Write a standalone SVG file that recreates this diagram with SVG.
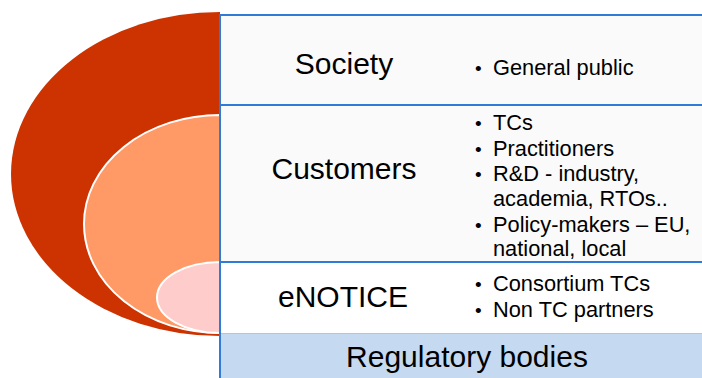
<svg xmlns="http://www.w3.org/2000/svg" width="702" height="378" viewBox="0 0 702 378">
<style>
.h{font-family:"Liberation Sans",Arial,sans-serif;font-size:30px;fill:#000;text-anchor:middle}
.b{font-family:"Liberation Sans",Arial,sans-serif;font-size:21.8px;fill:#000}
.d{font-family:"Liberation Sans",Arial,sans-serif;font-size:19px;fill:#000}
.ln{stroke:#2F7BD5;stroke-width:2;fill:none}
</style>
<rect width="702" height="378" fill="#fff"/>
<g id="rings">
<path d="M220,12 A209,162 0 0 0 220,336 Z" fill="#CC3300"/>
<path d="M220,115 A136,109 0 0 0 220,333 Z" fill="#FF9966" stroke="#fff" stroke-width="2"/>
<path d="M220,262 A63,35.5 0 0 0 220,333 Z" fill="#FFCCCC" stroke="#fff" stroke-width="2"/>
</g>
<g id="society">
<rect x="220" y="15" width="482" height="90" fill="#FAFAFA"/>
<text class="h" x="344" y="74">Society</text>
<text class="d" x="475" y="75">•</text><text class="b" x="493" y="75">General public</text>
</g>
<g id="customers">
<rect x="220" y="105" width="482" height="157" fill="#FAFAFA"/>
<text class="h" x="344" y="179">Customers</text>
<text class="d" x="475" y="130">•</text><text class="b" x="493" y="130">TCs</text>
<text class="d" x="475" y="156">•</text><text class="b" x="493" y="156">Practitioners</text>
<text class="d" x="475" y="181">•</text><text class="b" x="493" y="181">R&amp;D - industry,</text>
<text class="b" x="493" y="206">academia, RTOs..</text>
<text class="d" x="475" y="232">•</text><text class="b" x="493" y="232">Policy-makers – EU,</text>
<text class="b" x="493" y="256">national, local</text>
</g>
<g id="enotice">
<rect x="220" y="262" width="482" height="71" fill="#fff"/>
<text class="h" x="343" y="307">eNOTICE</text>
<text class="d" x="475" y="291">•</text><text class="b" x="493" y="291">Consortium TCs</text>
<text class="d" x="475" y="317">•</text><text class="b" x="493" y="317">Non TC partners</text>
</g>
<g id="regulatory">
<rect x="220" y="333" width="482" height="45" fill="#C5D9F1"/>
<line x1="220" y1="333.5" x2="702" y2="333.5" stroke="#A9C6EC" stroke-width="1"/>
<text class="h" x="467" y="367">Regulatory bodies</text>
</g>
<g id="connectors">
<line class="ln" x1="220" y1="15" x2="702" y2="15"/>
<line class="ln" x1="220" y1="105" x2="702" y2="105"/>
<line class="ln" x1="220" y1="262" x2="702" y2="262"/>
<line class="ln" x1="220" y1="14" x2="220" y2="378"/>
</g>
</svg>
